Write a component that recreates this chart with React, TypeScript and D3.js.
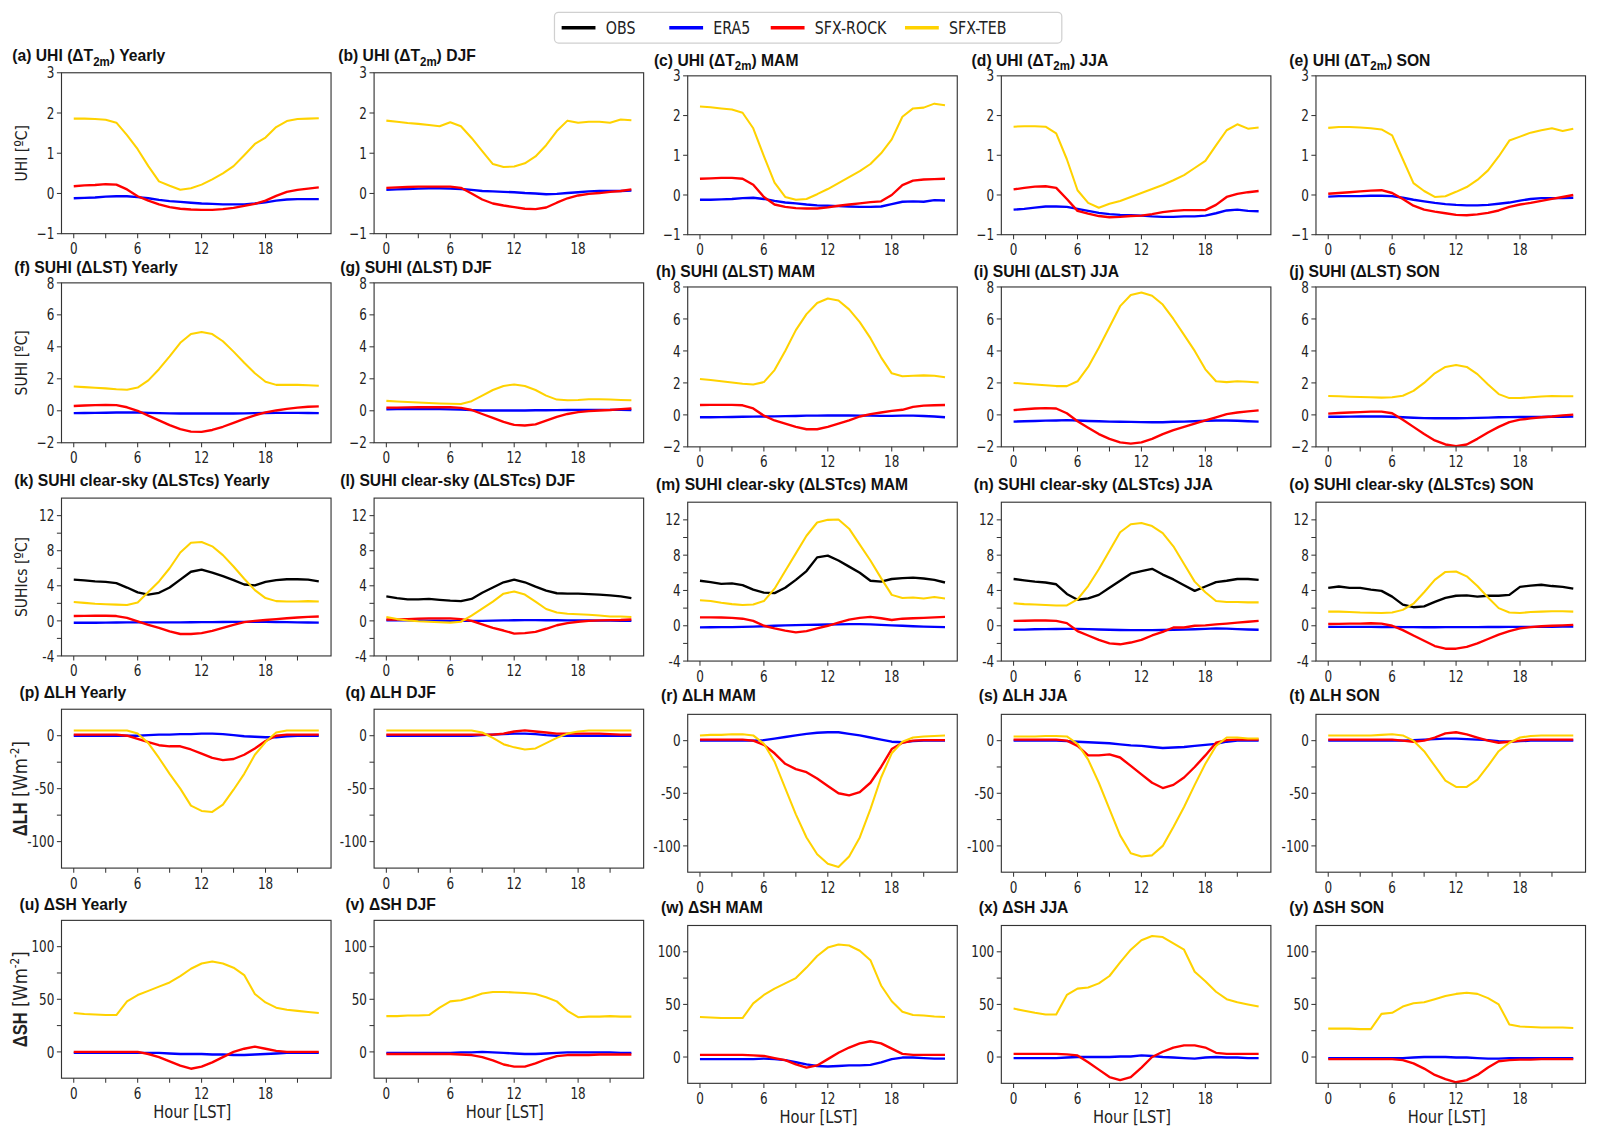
import React, { useEffect, useRef } from 'react';
import * as d3 from 'd3';

// ---- data (hourly, 0..23 LST) ----
const HOURS = d3.range(24);
const SERIES_NAMES = ['OBS', 'ERA5', 'SFX-ROCK', 'SFX-TEB'];
const SERIES_KEYS = ['obs', 'era5', 'rock', 'teb'];
const SERIES_COLORS = ['#000000', '#0000ff', '#ff0000', '#ffd200'];
const SEASONS = ['Yearly', 'DJF', 'MAM', 'JJA', 'SON'];

interface PanelData { obs?: number[]; era5: number[]; rock: number[]; teb: number[]; }

// UHI (dT2m)
const uhiYearly: PanelData = {
  era5: [-0.12, -0.11, -0.1, -0.08, -0.07, -0.07, -0.09, -0.12, -0.16, -0.19, -0.21, -0.23, -0.25, -0.26, -0.27, -0.27, -0.27, -0.25, -0.22, -0.18, -0.15, -0.14, -0.14, -0.14],
  rock: [0.18, 0.2, 0.21, 0.23, 0.22, 0.1, -0.07, -0.18, -0.27, -0.34, -0.38, -0.4, -0.41, -0.41, -0.39, -0.36, -0.31, -0.26, -0.18, -0.06, 0.04, 0.09, 0.12, 0.15],
  teb: [1.86, 1.86, 1.85, 1.83, 1.76, 1.45, 1.1, 0.68, 0.3, 0.19, 0.09, 0.13, 0.22, 0.35, 0.5, 0.68, 0.95, 1.23, 1.39, 1.65, 1.8, 1.85, 1.86, 1.87],
};
const uhiDJF: PanelData = {
  era5: [0.09, 0.1, 0.11, 0.12, 0.13, 0.13, 0.12, 0.11, 0.09, 0.06, 0.05, 0.04, 0.03, 0.01, 0.0, -0.02, -0.01, 0.01, 0.03, 0.05, 0.06, 0.06, 0.06, 0.07],
  rock: [0.14, 0.15, 0.16, 0.17, 0.17, 0.17, 0.17, 0.14, 0.0, -0.15, -0.25, -0.3, -0.34, -0.38, -0.39, -0.35, -0.23, -0.12, -0.05, -0.01, 0.01, 0.04, 0.06, 0.1],
  teb: [1.81, 1.78, 1.75, 1.73, 1.7, 1.67, 1.77, 1.67, 1.38, 1.05, 0.73, 0.66, 0.67, 0.75, 0.92, 1.2, 1.55, 1.81, 1.76, 1.78, 1.78, 1.76, 1.84, 1.82],
};
const uhiMAM: PanelData = {
  era5: [-0.12, -0.12, -0.11, -0.1, -0.08, -0.07, -0.1, -0.15, -0.19, -0.21, -0.24, -0.26, -0.27, -0.28, -0.29, -0.3, -0.3, -0.29, -0.23, -0.17, -0.16, -0.17, -0.13, -0.14],
  rock: [0.41, 0.42, 0.43, 0.43, 0.41, 0.26, -0.05, -0.24, -0.3, -0.33, -0.34, -0.34, -0.31, -0.27, -0.24, -0.21, -0.18, -0.16, 0.0, 0.25, 0.36, 0.39, 0.4, 0.41],
  teb: [2.23, 2.21, 2.18, 2.15, 2.07, 1.68, 0.98, 0.31, -0.05, -0.12, -0.1, 0.02, 0.15, 0.3, 0.45, 0.6, 0.78, 1.05, 1.4, 1.97, 2.18, 2.2, 2.3, 2.26],
};
const uhiJJA: PanelData = {
  era5: [-0.37, -0.35, -0.32, -0.29, -0.29, -0.3, -0.35, -0.4, -0.45, -0.48, -0.5, -0.51, -0.52, -0.54, -0.55, -0.55, -0.54, -0.54, -0.52, -0.46, -0.39, -0.37, -0.4, -0.41],
  rock: [0.14, 0.18, 0.21, 0.22, 0.18, -0.1, -0.4, -0.47, -0.53, -0.56, -0.55, -0.53, -0.52, -0.48, -0.43, -0.4, -0.38, -0.38, -0.38, -0.25, -0.05, 0.03, 0.07, 0.1],
  teb: [1.72, 1.73, 1.73, 1.72, 1.55, 0.9, 0.12, -0.2, -0.32, -0.22, -0.15, -0.05, 0.05, 0.15, 0.25, 0.37, 0.5, 0.68, 0.86, 1.25, 1.63, 1.78, 1.67, 1.7],
};
const uhiSON: PanelData = {
  era5: [-0.04, -0.03, -0.03, -0.03, -0.02, -0.02, -0.03, -0.07, -0.12, -0.16, -0.2, -0.23, -0.25, -0.26, -0.26, -0.25, -0.22, -0.19, -0.14, -0.1, -0.08, -0.08, -0.08, -0.07],
  rock: [0.03, 0.05, 0.07, 0.09, 0.11, 0.12, 0.05, -0.1, -0.27, -0.37, -0.42, -0.46, -0.5, -0.51, -0.49, -0.45, -0.39, -0.3, -0.24, -0.2, -0.15, -0.1, -0.05, 0.0],
  teb: [1.69, 1.71, 1.71, 1.7, 1.68, 1.65, 1.5, 0.9, 0.3, 0.1, -0.05, -0.03, 0.08, 0.2, 0.38, 0.62, 0.97, 1.37, 1.47, 1.57, 1.63, 1.68, 1.61, 1.67],
};

// SUHI (dLST)
const suhiYearly: PanelData = {
  era5: [-0.15, -0.14, -0.13, -0.12, -0.11, -0.1, -0.11, -0.13, -0.15, -0.16, -0.17, -0.17, -0.17, -0.17, -0.17, -0.17, -0.16, -0.15, -0.14, -0.13, -0.13, -0.13, -0.14, -0.15],
  rock: [0.3, 0.33, 0.35, 0.36, 0.35, 0.22, 0.0, -0.3, -0.6, -0.9, -1.15, -1.3, -1.32, -1.2, -1.0, -0.75, -0.5, -0.28, -0.1, 0.02, 0.12, 0.2, 0.25, 0.28],
  teb: [1.52, 1.48, 1.44, 1.4, 1.35, 1.32, 1.45, 1.9, 2.6, 3.4, 4.25, 4.8, 4.93, 4.8, 4.35, 3.7, 3.0, 2.35, 1.82, 1.62, 1.62, 1.62, 1.6, 1.57],
};
const suhiDJF: PanelData = {
  era5: [0.09, 0.1, 0.1, 0.11, 0.11, 0.1, 0.09, 0.07, 0.04, 0.02, 0.02, 0.02, 0.02, 0.02, 0.03, 0.03, 0.04, 0.05, 0.06, 0.06, 0.06, 0.06, 0.06, 0.05],
  rock: [0.2, 0.2, 0.21, 0.22, 0.22, 0.22, 0.22, 0.18, 0.05, -0.2, -0.45, -0.7, -0.88, -0.92, -0.85, -0.62, -0.38, -0.2, -0.08, -0.02, 0.02, 0.05, 0.1, 0.14],
  teb: [0.62, 0.58, 0.55, 0.52, 0.49, 0.46, 0.44, 0.43, 0.6, 0.95, 1.3, 1.55, 1.65, 1.55, 1.3, 0.95, 0.7, 0.66, 0.68, 0.72, 0.72, 0.7, 0.68, 0.66],
};
const suhiMAM: PanelData = {
  era5: [-0.15, -0.15, -0.14, -0.13, -0.12, -0.11, -0.1, -0.09, -0.08, -0.07, -0.05, -0.05, -0.04, -0.04, -0.04, -0.05, -0.05, -0.06, -0.06, -0.05, -0.05, -0.07, -0.1, -0.15],
  rock: [0.62, 0.63, 0.63, 0.63, 0.6, 0.4, -0.05, -0.35, -0.55, -0.75, -0.9, -0.9, -0.75, -0.55, -0.35, -0.1, 0.05, 0.15, 0.25, 0.32, 0.5, 0.58, 0.6, 0.62],
  teb: [2.25, 2.18, 2.1, 2.02, 1.95, 1.9, 2.05, 2.8, 4.0, 5.3, 6.3, 7.0, 7.28, 7.15, 6.6, 5.8, 4.8, 3.6, 2.6, 2.42, 2.45, 2.47, 2.45, 2.35],
};
const suhiJJA: PanelData = {
  era5: [-0.42, -0.4, -0.38, -0.36, -0.35, -0.33, -0.35, -0.38, -0.4, -0.42, -0.43, -0.44, -0.45, -0.46, -0.46, -0.43, -0.42, -0.4, -0.37, -0.35, -0.35, -0.37, -0.4, -0.42],
  rock: [0.3, 0.35, 0.4, 0.42, 0.4, 0.1, -0.4, -0.8, -1.2, -1.5, -1.72, -1.8, -1.72, -1.5, -1.2, -0.95, -0.75, -0.55, -0.35, -0.15, 0.05, 0.15, 0.22, 0.28],
  teb: [2.0, 1.95, 1.9, 1.85, 1.8, 1.8, 2.1, 3.0, 4.2, 5.5, 6.8, 7.5, 7.65, 7.45, 6.9, 6.0, 5.0, 4.0, 2.85, 2.1, 2.05, 2.1, 2.07, 2.03],
};
const suhiSON: PanelData = {
  era5: [-0.12, -0.12, -0.11, -0.1, -0.1, -0.1, -0.12, -0.15, -0.18, -0.2, -0.21, -0.21, -0.21, -0.2, -0.19, -0.17, -0.15, -0.14, -0.13, -0.13, -0.13, -0.12, -0.12, -0.11],
  rock: [0.08, 0.12, 0.15, 0.17, 0.2, 0.2, 0.1, -0.3, -0.75, -1.2, -1.6, -1.85, -1.95, -1.85, -1.5, -1.1, -0.75, -0.45, -0.3, -0.22, -0.15, -0.1, -0.03, 0.02],
  teb: [1.18, 1.16, 1.14, 1.12, 1.1, 1.08, 1.1, 1.2, 1.5, 2.0, 2.6, 3.0, 3.12, 3.0, 2.55, 1.9, 1.3, 1.05, 1.05, 1.1, 1.15, 1.18, 1.17, 1.16],
};

// SUHI clear-sky (dLSTcs)
const suhicsYearly: PanelData = {
  obs: [4.7, 4.62, 4.5, 4.45, 4.3, 3.8, 3.25, 3.0, 3.2, 3.8, 4.7, 5.6, 5.85, 5.5, 5.1, 4.65, 4.15, 4.05, 4.45, 4.65, 4.75, 4.75, 4.7, 4.5],
  era5: [-0.22, -0.22, -0.21, -0.2, -0.19, -0.18, -0.17, -0.17, -0.17, -0.17, -0.17, -0.16, -0.15, -0.14, -0.13, -0.12, -0.12, -0.12, -0.12, -0.13, -0.15, -0.17, -0.19, -0.2],
  rock: [0.55, 0.57, 0.58, 0.58, 0.55, 0.35, -0.05, -0.45, -0.8, -1.2, -1.5, -1.5, -1.4, -1.15, -0.8, -0.45, -0.15, 0.0, 0.1, 0.2, 0.3, 0.38, 0.45, 0.5],
  teb: [2.15, 2.05, 1.95, 1.9, 1.85, 1.8, 2.1, 3.3, 4.5, 6.0, 7.8, 8.9, 9.0, 8.5, 7.5, 6.2, 4.8, 3.5, 2.6, 2.25, 2.2, 2.2, 2.25, 2.2],
};
const suhicsDJF: PanelData = {
  obs: [2.8, 2.6, 2.45, 2.45, 2.5, 2.4, 2.3, 2.25, 2.5, 3.2, 3.8, 4.4, 4.7, 4.4, 3.9, 3.45, 3.15, 3.1, 3.1, 3.05, 3.0, 2.9, 2.8, 2.6],
  era5: [0.05, 0.05, 0.05, 0.04, 0.03, 0.02, 0.0, 0.0, 0.0, 0.0, 0.02, 0.05, 0.07, 0.08, 0.08, 0.07, 0.07, 0.06, 0.05, 0.04, 0.03, 0.02, 0.01, 0.0],
  rock: [0.15, 0.15, 0.2, 0.25, 0.28, 0.28, 0.28, 0.2, 0.0, -0.4, -0.8, -1.1, -1.45, -1.4, -1.25, -0.9, -0.5, -0.25, -0.1, 0.0, 0.05, 0.08, 0.1, 0.15],
  teb: [0.45, 0.2, 0.05, -0.05, -0.1, -0.15, -0.2, -0.1, 0.6, 1.4, 2.2, 3.1, 3.35, 3.0, 2.2, 1.35, 0.95, 0.8, 0.75, 0.7, 0.6, 0.5, 0.5, 0.45],
};
const suhicsMAM: PanelData = {
  obs: [5.1, 4.95, 4.75, 4.8, 4.6, 4.1, 3.75, 3.7, 4.3, 5.2, 6.2, 7.75, 7.95, 7.4, 6.7, 6.0, 5.1, 5.0, 5.3, 5.4, 5.45, 5.35, 5.2, 4.9],
  era5: [-0.18, -0.17, -0.16, -0.15, -0.13, -0.1, -0.05, 0.0, 0.05, 0.08, 0.1, 0.12, 0.14, 0.16, 0.18, 0.18, 0.15, 0.1, 0.05, 0.0, -0.05, -0.1, -0.13, -0.15],
  rock: [0.95, 0.95, 0.93, 0.9, 0.8, 0.55, 0.0, -0.3, -0.55, -0.75, -0.6, -0.3, 0.0, 0.35, 0.7, 0.9, 1.0, 0.85, 0.65, 0.8, 0.85, 0.9, 0.95, 1.0],
  teb: [2.9, 2.8, 2.6, 2.45, 2.35, 2.4, 2.8, 4.2, 6.2, 8.2, 10.2, 11.7, 12.0, 12.05, 11.0, 9.2, 7.4, 5.4, 3.5, 3.15, 3.2, 3.1, 3.25, 3.1],
};
const suhicsJJA: PanelData = {
  obs: [5.3, 5.15, 5.0, 4.9, 4.7, 3.6, 2.95, 3.1, 3.5, 4.3, 5.1, 5.9, 6.2, 6.45, 5.8, 5.25, 4.6, 3.95, 4.45, 4.95, 5.1, 5.3, 5.3, 5.2],
  era5: [-0.45, -0.43, -0.4, -0.38, -0.37, -0.36, -0.36, -0.38, -0.42, -0.45, -0.48, -0.5, -0.5, -0.5, -0.48, -0.45, -0.43, -0.4, -0.35, -0.3, -0.32, -0.38, -0.42, -0.45],
  rock: [0.55, 0.57, 0.6, 0.6, 0.55, 0.3, -0.6, -1.1, -1.6, -2.0, -2.1, -1.9, -1.6, -1.1, -0.7, -0.2, -0.2, 0.0, 0.05, 0.15, 0.25, 0.35, 0.45, 0.55],
  teb: [2.55, 2.45, 2.4, 2.35, 2.3, 2.3, 3.0, 4.5, 6.4, 8.5, 10.6, 11.5, 11.65, 11.3, 10.5, 9.0, 7.0, 5.0, 3.8, 2.8, 2.7, 2.7, 2.65, 2.65],
};
const suhicsSON: PanelData = {
  obs: [4.3, 4.45, 4.3, 4.3, 4.1, 3.95, 3.3, 2.4, 2.1, 2.2, 2.7, 3.15, 3.4, 3.45, 3.3, 3.4, 3.4, 3.5, 4.4, 4.55, 4.65, 4.5, 4.4, 4.2],
  era5: [-0.12, -0.12, -0.12, -0.13, -0.13, -0.14, -0.14, -0.15, -0.16, -0.17, -0.17, -0.16, -0.16, -0.15, -0.15, -0.14, -0.14, -0.13, -0.13, -0.12, -0.12, -0.11, -0.1, -0.1],
  rock: [0.2, 0.22, 0.25, 0.25, 0.28, 0.25, 0.0, -0.5, -1.1, -1.7, -2.3, -2.6, -2.6, -2.4, -2.0, -1.5, -1.0, -0.6, -0.3, -0.15, -0.05, 0.0, 0.05, 0.1],
  teb: [1.6, 1.6, 1.55, 1.5, 1.48, 1.45, 1.5, 1.8, 2.5, 3.8, 5.2, 6.1, 6.15, 5.6, 4.5, 3.2, 2.0, 1.5, 1.45, 1.55, 1.6, 1.65, 1.65, 1.6],
};

// dLH [W m-2]
const lhYearly: PanelData = {
  era5: [0, 0, 0, 0, 0, 0, 0, 0.5, 1, 1, 1.5, 1.5, 2, 2, 1.5, 0.5, -0.5, -1, -1.5, -1.5, -0.5, 0, 0, 0],
  rock: [1, 1, 1, 1, 1, 0, -3, -6, -9, -10, -10, -13, -17, -21, -23, -22, -18, -12, -5, 0, 1, 1, 1, 1],
  teb: [5, 5, 5, 5, 5, 5, 2, -7, -21, -36, -50, -66, -71, -72, -65, -51, -36, -18, -6, 3, 5, 5, 5, 5],
};
const lhDJF: PanelData = {
  era5: [0, 0, 0, 0, 0, 0, 0, 0, 0, 0.5, 1, 1.5, 2, 2, 1.5, 0.5, 0, 0, 0, 0, 0, 0, 0, 0],
  rock: [1, 1, 1, 1, 1, 1, 1, 1, 1, 1, 1, 2, 4, 5, 4, 3, 2, 2, 2, 2, 2, 1.5, 1, 1],
  teb: [5, 5, 5, 5, 5, 5, 5, 5, 5, 3, -2, -8, -11, -13, -12, -7, -2, 2, 4, 5, 5, 5, 5, 5],
};
const lhMAM: PanelData = {
  era5: [0, 0, 0, 0, 0, 0, 0.5, 2, 3.5, 5, 6.5, 7.5, 8, 8, 6.5, 5, 3, 1, -1, -1.5, -0.5, 0, 0, 0],
  rock: [1, 1, 1, 1, 1, 0, -4, -12, -22, -27, -30, -36, -43, -50, -52, -49, -40, -25, -8, -2, 0, 0.5, 0.5, 0.5],
  teb: [5, 5.5, 5.5, 6, 6, 5, -3, -20, -45, -70, -92, -108, -117, -120, -110, -92, -65, -35, -12, -1, 3, 4, 4.5, 5],
};
const lhJJA: PanelData = {
  era5: [0, 0, 0, 0, 0, -0.5, -1, -1.5, -2, -2.5, -3.5, -4.5, -5, -6, -7, -6.5, -6, -5, -4, -3, -1, 0, 0, 0],
  rock: [1, 1, 1, 1, 1, 0, -5, -14, -14, -13, -16, -24, -32, -40, -45, -42, -35, -25, -14, -2, 0.5, 1, 1, 1],
  teb: [4, 4, 4, 4.5, 4.5, 4, -3, -18, -40, -65, -90, -107, -110, -109, -100, -82, -63, -42, -22, -5, 3, 3, 2, 2],
};
const lhSON: PanelData = {
  era5: [0, 0, 0, 0, 0, 0, 0, 0, 0.5, 1, 1.5, 2, 2, 1.5, 1, 0.5, -0.5, -1, -0.5, 0, 0, 0, 0, 0],
  rock: [1, 1, 1, 1, 1, 1, 1, 0, -1, 0, 3, 7, 8, 6, 3, 0, -2, -1, 0, 1, 1, 1, 1, 1],
  teb: [5, 5, 5, 5, 5, 5.5, 6, 5, 0, -10, -24, -38, -44, -44, -37, -24, -10, -2, 3, 4.5, 5, 5, 5, 5],
};

// dSH [W m-2]
const shYearly: PanelData = {
  era5: [-1, -1, -1, -1, -1, -1, -1, -1, -1, -1.5, -2, -2, -2, -2.5, -2.5, -3, -3, -2.5, -2, -1.5, -1, -1, -1, -1],
  rock: [0, 0, 0, 0, 0, 0, 0, -2, -5, -9, -13, -16, -14, -10, -5, 0, 3, 5, 3, 1, 0, 0, 0, 0],
  teb: [37, 36, 35.5, 35, 35, 48, 54, 58, 62, 66, 72, 79, 84, 86, 84, 80, 73, 55, 47, 42, 40, 39, 38, 37],
};
const shDJF: PanelData = {
  era5: [-1, -1, -1, -1, -1, -1, -1, -0.5, -0.5, 0, -0.5, -1, -1.5, -2, -2, -1.5, -1, -0.5, -0.5, -0.5, -0.5, -0.5, -1, -1],
  rock: [-2, -2, -2, -2, -2, -2, -2, -2.5, -3, -5, -8, -12, -14, -14, -11, -7, -4, -3, -3, -3, -2.5, -2.5, -2.5, -2.5],
  teb: [34, 34, 34.5, 34.5, 35, 42, 48, 49, 52, 55.5, 57, 57, 56.5, 56, 55, 52, 48, 39, 33, 33.5, 33.5, 34, 33.5, 33.5],
};
const shMAM: PanelData = {
  era5: [-2, -2, -2, -2, -2, -2, -1.5, -2, -3, -5, -7, -8.5, -9, -8.5, -8, -8, -7.5, -5, -2, -0.5, -0.5, -1, -1.5, -1.5],
  rock: [2, 2, 2, 2, 2, 1.5, 1, -1, -3, -7, -10, -8, -2, 4, 9, 13, 15, 13, 8, 3, 2, 2, 2, 2],
  teb: [38, 37.5, 37, 37, 37, 51, 59, 65, 70, 75, 85, 96, 104, 107, 106, 101, 92, 68, 53, 43, 40, 39.5, 38.5, 38],
};
const shJJA: PanelData = {
  era5: [-1, -1, -1, -1, -1, -0.5, 0, 0, 0, 0, 0.5, 0.5, 1.5, 1, 0, -0.5, -1, -1.5, -0.5, 0, -0.5, -0.5, -1, -1],
  rock: [3, 3, 3, 3, 3, 2.5, 1.5, -5, -12, -19, -22, -19, -10, 0, 5, 9, 11, 11, 9, 4, 3, 3, 3, 3],
  teb: [46, 44, 42, 40.5, 40.5, 59, 65, 66, 70, 77, 90, 102, 111, 115, 114, 108, 102, 81, 72, 62, 55, 52, 50, 48],
};
const shSON: PanelData = {
  era5: [-1, -1, -1, -1, -1, -1, -1, -1, -0.5, 0, 0, 0, -0.5, -0.5, -1, -1.5, -1.5, -1, -1, -1, -1, -1, -1, -1],
  rock: [-2, -2, -2, -2, -2, -2, -2, -3, -6, -11, -17, -21, -24, -22, -17, -10, -4, -3, -2.5, -2.5, -2, -2, -2, -2],
  teb: [27, 27, 27, 26.5, 26.5, 41, 42, 48, 51, 52, 55, 58, 60, 61, 60, 56, 50, 31, 29, 28.5, 28, 28, 28, 27.5],
};

const ROW_DATA: PanelData[][] = [
  [uhiYearly, uhiDJF, uhiMAM, uhiJJA, uhiSON],
  [suhiYearly, suhiDJF, suhiMAM, suhiJJA, suhiSON],
  [suhicsYearly, suhicsDJF, suhicsMAM, suhicsJJA, suhicsSON],
  [lhYearly, lhDJF, lhMAM, lhJJA, lhSON],
  [shYearly, shDJF, shMAM, shJJA, shSON],
];

// axis settings per row
const Y_DOMAINS = [[-1, 3], [-2, 8], [-4, 14], [-125, 25], [-25, 125]];
const Y_TICKS = [[-1, 0, 1, 2, 3], [-2, 0, 2, 4, 6, 8], [-4, 0, 4, 8, 12], [-100, -50, 0], [0, 50, 100]];
const Y_MINOR = [[], [], [-2, 2, 6, 10], [-75, -25], [25, 75]];
const Y_MINUS = ['\u2212', '\u2212', '-', '-', '-'];
const X_TICKS = [0, 6, 12, 18];
const X_MINOR = [3, 9, 15, 21];

const LETTERS = 'abcdefghijklmnopqrstuvwxy';
const ROW_TITLE = ['UHI (\u0394T|2m|)', 'SUHI (\u0394LST)', 'SUHI clear-sky (\u0394LSTcs)', '\u0394LH', '\u0394SH'];

// ---- layout (drawn in a 1566-wide frame, scaled up to the page) ----
const W = 1605, H = 1140;
const S = 1605 / 1566;
const COL_LEFT = [60, 365, 671, 977, 1284];
const BOX_W = 263;
const ROW_TOP = [[71, 276, 486, 692, 898], [74, 280, 490, 697, 903]];
const ROW_BOT = [[228, 432, 640, 847, 1052], [229, 436, 645, 851, 1057]];
const TITLE_Y = [[60, 266, 474, 681, 888], [64, 270, 478, 684, 891]];
const COL_TITLE_X = [12, 330, 638, 948, 1256];
const ROW_TITLE_DX = [0, 2, 2, 7, 7];

const TICK_FONT = '"DejaVu Sans", sans-serif';
const TITLE_FONT = '"Liberation Sans", Arial, sans-serif';

const App: React.FC = () => {
  const svgRef = useRef<SVGSVGElement>(null);

  useEffect(() => {
    if (!svgRef.current) return;
    const root = d3.select(svgRef.current);
    root.selectAll('*').remove();
    root.append('rect').attr('width', W).attr('height', H).attr('fill', '#fff');
    const svg = root.append('g').attr('transform', `scale(${S})`);

    const text = (g: any, x: number, y: number, s: string, size: number, anchor = 'start', sx = 0.78, font = TICK_FONT, weight = 'normal') =>
      g.append('text')
        .attr('transform', `translate(${x},${y}) scale(${sx},1)`)
        .attr('text-anchor', anchor)
        .attr('font-family', font)
        .attr('font-size', size)
        .attr('font-weight', weight)
        .attr('fill', '#222')
        .text(s);

    // legend
    const lg = svg.append('g');
    lg.append('rect').attr('x', 541).attr('y', 12).attr('width', 495).attr('height', 30).attr('rx', 4)
      .attr('fill', '#fff').attr('stroke', '#d0d0d0').attr('stroke-width', 1.2);
    const legendX = [548, 653, 752, 883];
    SERIES_NAMES.forEach((name, i) => {
      lg.append('line').attr('x1', legendX[i]).attr('x2', legendX[i] + 33).attr('y1', 27).attr('y2', 27)
        .attr('stroke', SERIES_COLORS[i]).attr('stroke-width', 3.5);
      text(lg, legendX[i] + 43, 33, name, 16.5, 'start', 0.84);
    });

    ROW_DATA.forEach((rowPanels, r) => {
      rowPanels.forEach((panel, c) => {
        const grp = c < 2 ? 0 : 1;
        const left = COL_LEFT[c], right = left + BOX_W;
        const top = ROW_TOP[grp][r], bot = ROW_BOT[grp][r];
        const x = d3.scaleLinear().domain([-1.15, 24.15]).range([left, right]);
        const y = d3.scaleLinear().domain(Y_DOMAINS[r]).range([bot, top]);
        const g = svg.append('g');

        // title
        const tx = COL_TITLE_X[c] + (c === 4 ? 2 : ROW_TITLE_DX[r]);
        const t = g.append('text')
          .attr('transform', `translate(${tx},${TITLE_Y[grp][r]}) scale(0.9,1)`)
          .attr('font-family', TITLE_FONT).attr('font-weight', 'bold').attr('font-size', 17).attr('fill', '#111');
        const parts = `(${LETTERS[r * 5 + c]}) ${ROW_TITLE[r]}${r === 2 && c === 2 ? '  ' : ' '}${SEASONS[c]}`.split('|');
        parts.forEach((p, i) => {
          const sp = t.append('tspan').text(p);
          if (i === 1) sp.attr('font-size', 12.5).attr('dy', 4);
          if (i === 2) sp.attr('dy', -4);
        });

        // lines
        const line = d3.line<number>().x((_, i) => x(HOURS[i])).y(d => y(d));
        const clip = `clip-${r}-${c}`;
        g.append('clipPath').attr('id', clip).append('rect')
          .attr('x', left).attr('y', top).attr('width', BOX_W).attr('height', bot - top);
        SERIES_KEYS.forEach((k, i) => {
          const vals = (panel as any)[k] as number[] | undefined;
          if (!vals) return;
          g.append('path').datum(vals).attr('d', line).attr('fill', 'none')
            .attr('stroke', SERIES_COLORS[i]).attr('stroke-width', i === 3 ? 2 : 2.3)
            .attr('stroke-linejoin', 'round').attr('clip-path', `url(#${clip})`);
        });

        // frame
        g.append('rect').attr('x', left).attr('y', top).attr('width', BOX_W).attr('height', bot - top)
          .attr('fill', 'none').attr('stroke', '#333').attr('stroke-width', 1.1);

        // x ticks
        [...X_TICKS, ...X_MINOR].forEach(v => {
          g.append('line').attr('x1', x(v)).attr('x2', x(v)).attr('y1', bot).attr('y2', bot + 4.5)
            .attr('stroke', '#333').attr('stroke-width', 1);
        });
        X_TICKS.forEach(v => text(g, x(v), bot + 20, String(v), 15, 'middle'));

        // y ticks
        [...Y_TICKS[r], ...Y_MINOR[r]].forEach(v => {
          g.append('line').attr('x1', left - 4.5).attr('x2', left).attr('y1', y(v)).attr('y2', y(v))
            .attr('stroke', '#333').attr('stroke-width', 1);
        });
        Y_TICKS[r].forEach(v => {
          const s = v < 0 ? Y_MINUS[r] + Math.abs(v) : String(v);
          text(g, left - 7, y(v) + 5.5, s, 15, 'end');
        });

        if (r === 4) {
          text(g, (left + right) / 2 - 4, bot + 39, 'Hour [LST]', 16.5, 'middle', 0.87);
        }
      });
    });

    // y axis labels (first column)
    const ylab = (r: number, size: number, build: (t: any) => void) => {
      const cy = (ROW_TOP[0][r] + ROW_BOT[0][r]) / 2;
      const t = svg.append('text')
        .attr('transform', `translate(26,${cy}) rotate(-90) scale(0.85,1)`)
        .attr('text-anchor', 'middle').attr('font-family', TICK_FONT).attr('font-size', size).attr('fill', '#222');
      build(t);
    };
    ylab(0, 16, t => t.text('UHI  [\u00baC]'));
    ylab(1, 16, t => t.text('SUHI  [\u00baC]'));
    ylab(2, 16, t => t.text('SUHIcs  [\u00baC]'));
    [3, 4].forEach(r => ylab(r, 19, t => {
      t.append('tspan').attr('font-weight', 'bold').attr('font-family', TITLE_FONT).text(r === 3 ? '\u0394LH' : '\u0394SH');
      t.append('tspan').text(' [Wm');
      t.append('tspan').attr('font-size', 12).attr('dy', -7).text('-2');
      t.append('tspan').attr('dy', 7).text(']');
    }));
  }, []);

  return (
    <svg ref={svgRef} width={W} height={H}
      style={{ position: 'absolute', left: 0, top: 0, display: 'block' }} />
  );
};

export default App;
